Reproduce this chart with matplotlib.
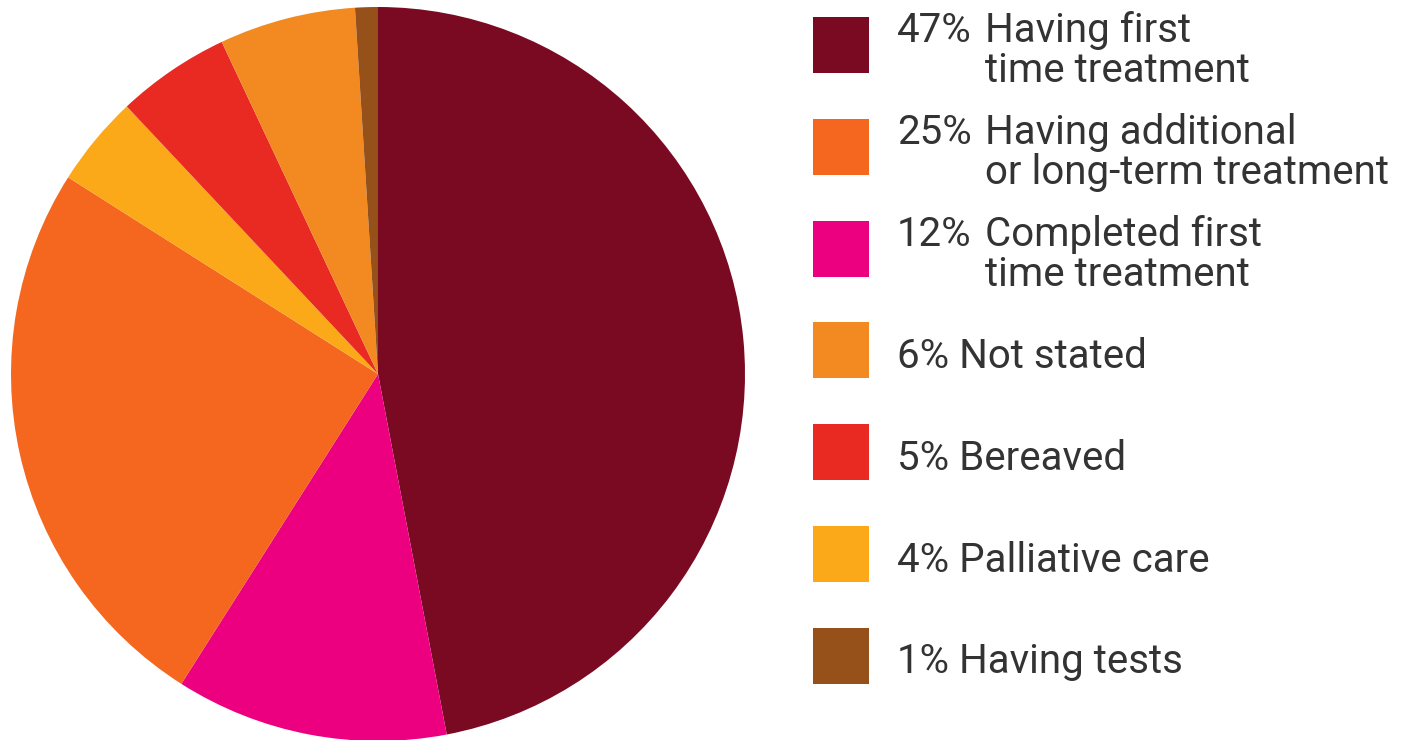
import matplotlib
matplotlib.use("Agg")
from matplotlib import pyplot as plt
from matplotlib.patches import Rectangle

# legend order (top to bottom)
pcts = ["47%", "25%", "12%", "6%", "5%", "4%", "1%"]
labels = ["Having first\ntime treatment",
          "Having additional\nor long-term treatment",
          "Completed first\ntime treatment",
          "Not stated",
          "Bereaved",
          "Palliative care",
          "Having tests"]
colors = ["#7a0a22", "#f5661f", "#ec0080", "#f28a21", "#e82a22", "#fba919", "#96511a"]

# clockwise order of the wedges, starting at 12 o'clock
pie_order = [0, 2, 1, 5, 4, 3, 6]
pie_values = [47, 12, 25, 4, 5, 6, 1]

W, H = 1404, 740
fig = plt.figure(figsize=(W / 100, H / 100), dpi=100)
fig.patch.set_facecolor("white")

# pie axes: centre at (378, 374) px, radius 367 px
cx, cy, r = 378, 374, 367
ax = fig.add_axes([(cx - r) / W, (H - cy - r) / H, 2 * r / W, 2 * r / H])
ax.pie(pie_values, colors=[colors[i] for i in pie_order], startangle=90,
       counterclock=False, radius=1, wedgeprops=dict(linewidth=0))
ax.set_xlim(-1, 1)
ax.set_ylim(-1, 1)
ax.set_aspect("auto")
ax.axis("off")

def px(x, y):
    return x / W, 1 - y / H

text_kw = dict(fontsize=29, family=["Roboto", "DejaVu Sans"], color="#333333",
               va="center", ha="left")

sq = 56
top0, step = 17, 101.8
for k in range(len(pcts)):
    top = top0 + k * step
    fig.patches.append(Rectangle(px(813, top + sq), sq / W, sq / H,
                                 transform=fig.transFigure, facecolor=colors[k],
                                 edgecolor="none"))
    yc = top + sq / 2 + 6
    if "\n" in labels[k]:
        l1, l2 = labels[k].split("\n")
        fig.text(*px(897, yc - 20), pcts[k], **text_kw)
        fig.text(*px(985, yc - 20), l1, **text_kw)
        fig.text(*px(985, yc + 20), l2, **text_kw)
    else:
        fig.text(*px(897, yc), pcts[k] + " " + labels[k], **text_kw)

fig.savefig("out.png", dpi=100, facecolor="white")
